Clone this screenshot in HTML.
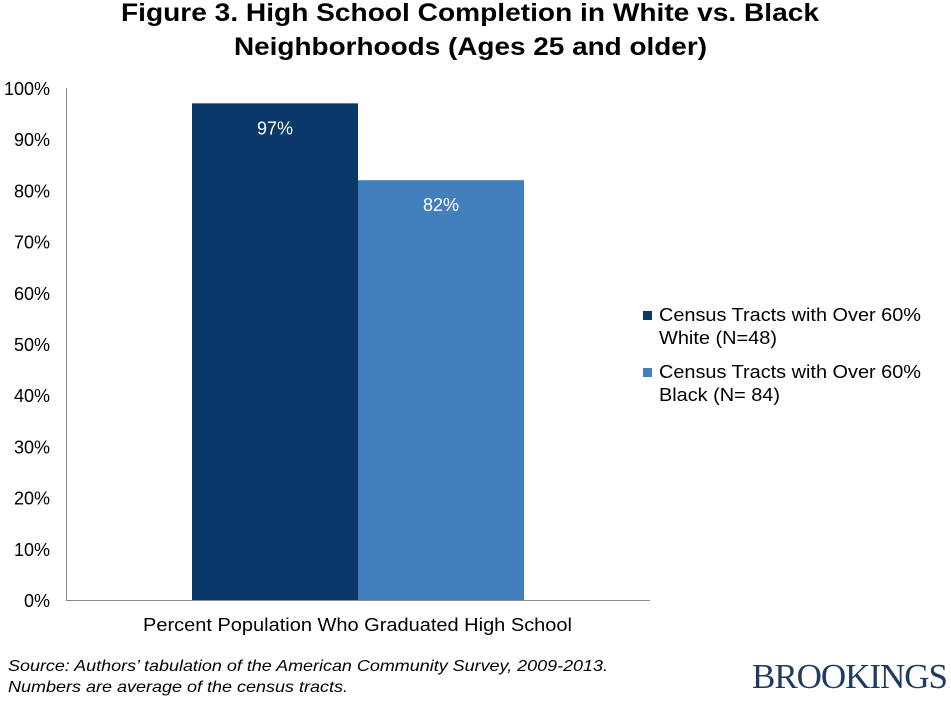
<!DOCTYPE html>
<html><head><meta charset="utf-8"><style>
body{margin:0;background:#fff;width:951px;height:699px;overflow:hidden;font-family:"Liberation Sans",Arial,sans-serif}
svg text{font-family:"Liberation Sans",Arial,sans-serif}
</style></head><body>
<svg id="c" width="951" height="699">
<text x="121" y="21" font-size="25" font-weight="bold" textLength="698" lengthAdjust="spacingAndGlyphs">Figure 3. High School Completion in White vs. Black</text>
<text x="234" y="55" font-size="25" font-weight="bold" textLength="473" lengthAdjust="spacingAndGlyphs">Neighborhoods (Ages 25 and older)</text>
<g id="plot"></g>
<text x="143" y="631" font-size="18" textLength="429" lengthAdjust="spacingAndGlyphs">Percent Population Who Graduated High School</text>
<rect x="643" y="311" width="9" height="9" fill="#0a3868"/>
<text x="659" y="321" font-size="18"><tspan x="659" textLength="262" lengthAdjust="spacingAndGlyphs">Census Tracts with Over 60%</tspan><tspan x="659" dy="23" textLength="118" lengthAdjust="spacingAndGlyphs">White (N=48)</tspan></text>
<rect x="643" y="368" width="9" height="9" fill="#427fbc"/>
<text x="659" y="378" font-size="18"><tspan x="659" textLength="262" lengthAdjust="spacingAndGlyphs">Census Tracts with Over 60%</tspan><tspan x="659" dy="23" textLength="121" lengthAdjust="spacingAndGlyphs">Black (N= 84)</tspan></text>
<text x="8" y="671" font-size="16" font-style="italic"><tspan x="8" textLength="600" lengthAdjust="spacingAndGlyphs">Source: Authors’ tabulation of the American Community Survey, 2009-2013.</tspan><tspan x="8" dy="21" textLength="340" lengthAdjust="spacingAndGlyphs">Numbers are average of the census tracts.</tspan></text>
<text x="948" y="688" text-anchor="end" font-size="35" fill="#1f3b63" style="font-family:'Liberation Serif',serif" textLength="196">BROOKINGS</text>
</svg>
<script>
const seriesNames=["White","Black"];
const values=[97,82];
const labels=["97%","82%"];
const colors=["#0a3868","#427fbc"];
const ticks=[0,10,20,30,40,50,60,70,80,90,100];
const ns="http://www.w3.org/2000/svg";
const g=document.getElementById('plot');
const x0=66,x1=650,yb=600,yt=88;
const y=v=>yb-(v/100)*(yb-yt);
function mk(t,a){const e=document.createElementNS(ns,t);for(const k in a)e.setAttribute(k,a[k]);g.appendChild(e);return e;}
ticks.forEach(t=>{
const e=mk('text',{x:50,y:y(t)+7,'text-anchor':'end','font-size':18});e.textContent=t+'%';


});
const bw=166,bx0=192;
values.forEach((v,i)=>{
const r=mk('rect',{x:bx0+i*bw,y:y(v),width:bw,height:yb-y(v),fill:colors[i]});


const t=mk('text',{x:bx0+i*bw+bw/2,y:y(v)+31,'text-anchor':'middle','font-size':18,fill:'#fff'});
t.textContent=labels[i];


});
const ya=mk('line',{x1:x0+0.5,y1:yt,x2:x0+0.5,y2:yb,stroke:'#888','stroke-width':1});


const xa=mk('line',{x1:x0,y1:yb+0.5,x2:x1,y2:yb+0.5,stroke:'#888','stroke-width':1});


</script>
</body></html>
